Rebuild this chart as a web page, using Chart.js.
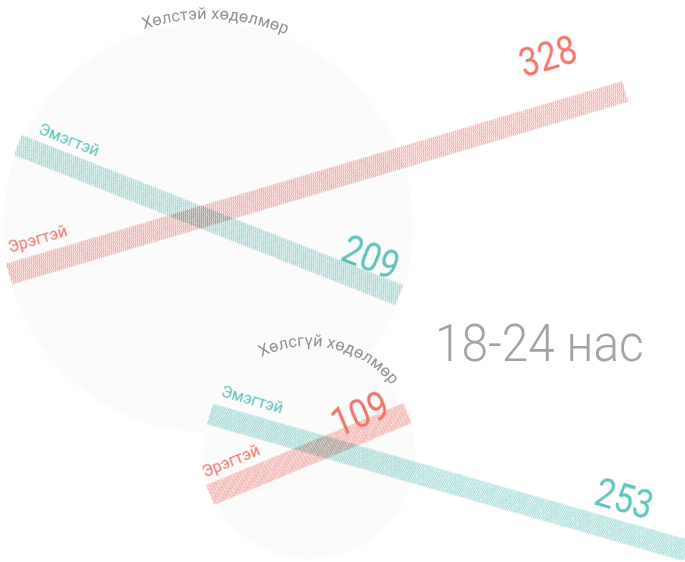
<!DOCTYPE html>
<html>
<head>
<meta charset="utf-8">
<script src="https://cdn.jsdelivr.net/npm/chart.js@4.4.1/dist/chart.umd.min.js"></script>
<style>
  html, body { margin: 0; padding: 0; background: #fff; }
  #stage { position: relative; width: 685px; height: 562px; overflow: hidden; }
  #bg { position: absolute; left: 0; top: 0; }
  .bar { position: absolute; mix-blend-mode: multiply; }
</style>
</head>
<body>
<div id="stage">
  <canvas id="bg" width="685" height="562"></canvas>
</div>
<script>
// data
const groups = ['Хөлстэй хөдөлмөр', 'Хөлсгүй хөдөлмөр'];
const seriesNames = ['Эмэгтэй', 'Эрэгтэй'];
const female = [209, 253];
const male = [328, 109];
const ageLabel = '18-24 нас';

const colors = ['#5cc6bd', '#f3756a'];
const axisMax = 340;
const barWidthPx = 666;   // 340 units -> 666px

// layout (per group)
const circles = [
  { cx: 208, cy: 227, r: 205, textR: 208, textAt: 2 },
  { cx: 309, cy: 453, r: 106, textR: 107, textAt: 12 }
];
// bar start point, angle, label offsets [series][group]
const barLayout = [
  [
    { x: 18, y: 145, angle: 21.5, name: [14, -18], value: [11, -11] },
    { x: 210, y: 414, angle: 16, name: [5, -20], value: [45, -19] }
  ],
  [
    { x: 9, y: 274, angle: -16.5, name: [7, -20], value: [35, -42] },
    { x: 210, y: 495, angle: -22.5, name: [2, -18], value: [15, -4] }
  ]
];

const bg = document.getElementById('bg').getContext('2d');

function arcText(ctx, text, cx, cy, R, centerDeg) {
  ctx.save();
  ctx.font = '16.5px Roboto';
  ctx.fillStyle = '#939393';
  ctx.textAlign = 'center';
  ctx.textBaseline = 'alphabetic';
  const total = ctx.measureText(text).width;
  let a = centerDeg * Math.PI / 180 - total / (2 * R);
  for (const ch of text) {
    const w = ctx.measureText(ch).width;
    const mid = a + (w / 2) / R;
    ctx.save();
    ctx.translate(cx + R * Math.sin(mid), cy - R * Math.cos(mid));
    ctx.rotate(mid);
    ctx.fillText(ch, 0, 0);
    ctx.restore();
    a += w / R;
  }
  ctx.restore();
}

// circles
bg.fillStyle = '#fbfbfb';
circles.forEach(c => {
  bg.beginPath();
  bg.arc(c.cx, c.cy, c.r, 0, Math.PI * 2);
  bg.fill();
});
circles.forEach((c, i) => arcText(bg, groups[i], c.cx, c.cy, c.textR, c.textAt));

// age title
bg.save();
bg.font = '300 52px Roboto';
bg.fillStyle = '#a3a3a3';
bg.translate(435, 361);
bg.scale(0.92, 1);
bg.fillText(ageLabel, 0, 0);
bg.restore();

function stripes(ctx, color, angle) {
  const c = document.createElement('canvas');
  c.width = 2; c.height = 2;
  const g = c.getContext('2d');
  g.fillStyle = color;
  g.globalAlpha = 0.62;
  g.fillRect(0, 0, 1, 2);
  g.globalAlpha = 0.1;
  g.fillRect(1, 0, 1, 2);
  const p = ctx.createPattern(c, 'repeat');
  p.setTransform(new DOMMatrix().rotateSelf(-angle));
  return p;
}

const labelPlugin = {
  id: 'barLabels',
  beforeDatasetsDraw(chart) {
    chart.ctx.imageSmoothingEnabled = false;
  },
  afterDatasetsDraw(chart, args, opts) {
    const ctx = chart.ctx;
    const bar = chart.getDatasetMeta(0).data[0];
    const ds = chart.data.datasets[0];
    ctx.save();
    ctx.fillStyle = opts.color;
    ctx.font = '16px Roboto';
    ctx.textAlign = 'left';
    ctx.fillText(ds.label, bar.base + opts.name[0], bar.y + opts.name[1]);
    ctx.translate(bar.x - opts.value[0], bar.y + opts.value[1]);
    ctx.scale(0.86, 1);
    ctx.font = '40px Roboto';
    ctx.textAlign = 'right';
    ctx.fillText(String(ds.data[0]), 0, 0);
    ctx.restore();
  }
};

const stage = document.getElementById('stage');
const padTop = 70, canvasH = 100, centerY = 85;

[female, male].forEach((values, s) => {
  values.forEach((v, g) => {
    const L = barLayout[s][g];
    const cv = document.createElement('canvas');
    cv.className = 'bar';
    cv.width = barWidthPx;
    cv.height = canvasH;
    cv.style.left = L.x + 'px';
    cv.style.top = (L.y - centerY) + 'px';
    cv.style.transformOrigin = '0px ' + centerY + 'px';
    cv.style.transform = 'rotate(' + L.angle + 'deg)';
    stage.appendChild(cv);
    const ctx = cv.getContext('2d');
    new Chart(cv, {
      type: 'bar',
      data: {
        labels: [groups[g]],
        datasets: [{
          label: seriesNames[s],
          data: [v],
          backgroundColor: stripes(ctx, colors[s], L.angle),
          borderWidth: 0,
          barThickness: 21
        }]
      },
      options: {
        indexAxis: 'y',
        responsive: false,
        animation: false,
        events: [],
        layout: { padding: { top: padTop, left: 0, right: 0, bottom: 0 } },
        scales: {
          x: { display: false, min: 0, max: axisMax },
          y: { display: false }
        },
        plugins: {
          legend: { display: false },
          tooltip: { enabled: false },
          barLabels: { color: colors[s], name: L.name, value: L.value }
        }
      },
      plugins: [labelPlugin]
    });
  });
});
</script>
</body>
</html>
